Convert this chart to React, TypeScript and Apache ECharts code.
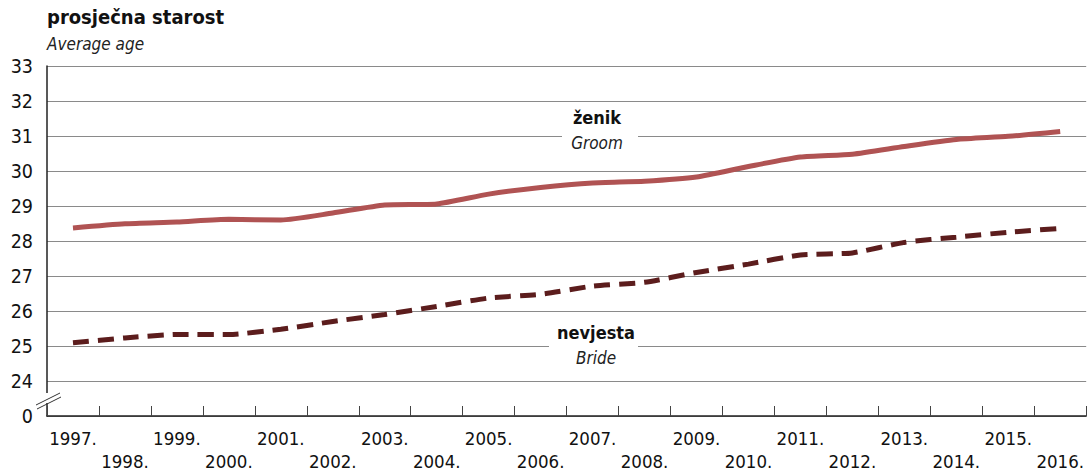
import React, { useEffect, useRef } from "react";
import * as echarts from "echarts";

const years = ["1997.", "1998.", "1999.", "2000.", "2001.", "2002.", "2003.", "2004.", "2005.", "2006.", "2007.", "2008.", "2009.", "2010.", "2011.", "2012.", "2013.", "2014.", "2015.", "2016."];
const groom = [28.37, 28.49, 28.54, 28.62, 28.6, 28.8, 29.03, 29.06, 29.34, 29.53, 29.66, 29.71, 29.83, 30.13, 30.4, 30.48, 30.7, 30.9, 30.99, 31.13];
const bride = [25.09, 25.23, 25.33, 25.33, 25.48, 25.7, 25.9, 26.13, 26.37, 26.48, 26.71, 26.82, 27.1, 27.34, 27.6, 27.66, 27.96, 28.11, 28.25, 28.36];
const yTickLabels: Record<number, string> = { 23: "0" };

const FONT = "'Liberation Sans Narrow', 'DejaVu Sans Condensed', 'Roboto Condensed', sans-serif";

export default function App() {
  const ref = useRef<HTMLDivElement>(null);
  useEffect(() => {
    const chart = echarts.init(ref.current!, null, { renderer: "svg" });
    chart.setOption({
      animation: false,
      backgroundColor: "#ffffff",
      textStyle: { fontFamily: FONT },
      grid: { left: 47, right: 0, top: 66, bottom: 58 },
      xAxis: {
        type: "category",
        data: years,
        boundaryGap: true,
        axisLine: { show: true, lineStyle: { color: "#222", width: 1.5 } },
        axisTick: { show: true, inside: true, length: 10, alignWithLabel: false, lineStyle: { color: "#444", width: 1 } },
        axisLabel: {
          interval: 0,
          margin: 11,
          color: "#111",
          fontSize: 18.5,
          fontFamily: FONT,
          lineHeight: 23,
          verticalAlign: "top",
          formatter: (v: string, i: number) => (i % 2 === 1 ? "\n" + v : v),
        },
        splitLine: { show: false },
      },
      yAxis: {
        type: "value",
        min: 23,
        max: 33,
        interval: 1,
        axisLine: { show: true, lineStyle: { color: "#222", width: 1.5 } },
        axisTick: { show: false },
        axisLabel: {
          color: "#111",
          fontSize: 19.5,
          fontFamily: FONT,
          margin: 14,
          formatter: (v: number) => (yTickLabels[v] !== undefined ? yTickLabels[v] : String(v)),
        },
        splitLine: { show: true, lineStyle: { color: "#8a8a8a", width: 1.2 } },
      },
      series: [
        {
          name: "ženik",
          type: "line",
          data: groom,
          symbol: "none",
          smooth: 0.2,
          lineStyle: { color: "#b05353", width: 5 },
          z: 3,
        },
        {
          name: "nevjesta",
          type: "line",
          data: bride,
          symbol: "none",
          smooth: 0.2,
          lineStyle: { color: "#5c1d1d", width: 5, type: [16, 9] },
          z: 3,
        },
      ],
      graphic: [
        { type: "text", left: 47, top: 7, style: { text: "prosječna starost", font: `bold 20px ${FONT}`, fill: "#111" } },
        { type: "text", left: 47, top: 35, style: { text: "Average age", font: `italic 17px ${FONT}`, fill: "#222" } },
        { type: "rect", shape: { x: 562, y: 130, width: 76, height: 12 }, style: { fill: "#fff" }, z: 10 },
        { type: "text", x: 597, y: 117, style: { text: "ženik", font: `bold 18px ${FONT}`, fill: "#111", align: "center", verticalAlign: "middle" }, z: 11 },
        { type: "text", x: 597, y: 143, style: { text: "Groom", font: `italic 17px ${FONT}`, fill: "#222", align: "center", verticalAlign: "middle" }, z: 11 },
        { type: "rect", shape: { x: 549, y: 339, width: 89, height: 12 }, style: { fill: "#fff" }, z: 10 },
        { type: "text", x: 596, y: 332, style: { text: "nevjesta", font: `bold 18px ${FONT}`, fill: "#111", align: "center", verticalAlign: "middle" }, z: 11 },
        { type: "text", x: 596, y: 358, style: { text: "Bride", font: `italic 17px ${FONT}`, fill: "#222", align: "center", verticalAlign: "middle" }, z: 11 },
        { type: "rect", shape: { x: 44, y: 393, width: 7, height: 10 }, style: { fill: "#fff" }, z: 10 },
        { type: "line", shape: { x1: 36, y1: 405, x2: 60, y2: 393 }, style: { stroke: "#333", lineWidth: 1 }, z: 11 },
        { type: "line", shape: { x1: 37, y1: 409, x2: 61, y2: 397 }, style: { stroke: "#333", lineWidth: 1 }, z: 11 },
      ],
    });
    return () => chart.dispose();
  }, []);
  return <div ref={ref} style={{ position: "fixed", left: 0, top: 0, width: 1087, height: 474 }} />;
}
